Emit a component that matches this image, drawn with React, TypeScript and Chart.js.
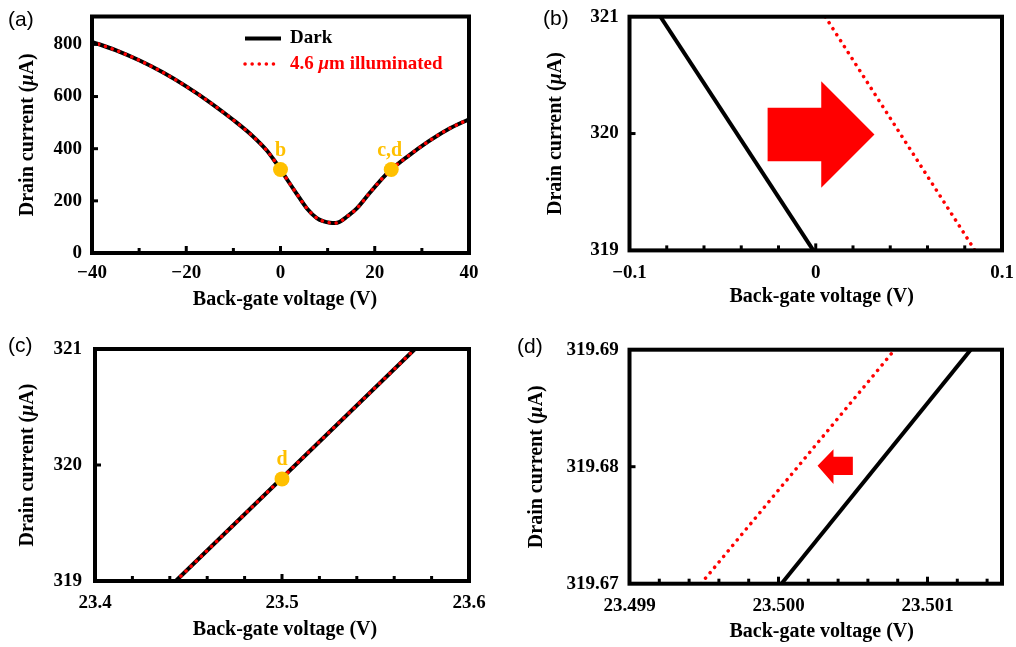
import React, { useEffect, useRef } from 'react';
import { Chart, registerables } from 'chart.js';

Chart.register(...registerables);

const SERIF = "'Liberation Serif', 'Times New Roman', Times, serif";
const SANS = "'Liberation Sans', Arial, Helvetica, sans-serif";
const BLACK = '#000000';
const RED = '#ff0000';
const GOLD = '#ffc000';

const SERIES_DARK = 'Dark';
const SERIES_ILLUM = '4.6 μm illuminated';
const X_TITLE = 'Back-gate voltage (V)';
const Y_TITLE = 'Drain current (μA)';

// ---------- panel (a): full sweep ----------
const aVoltage = [-40, -35, -30, -25, -20, -15, -10, -6, -3, -1, 0, 1.5, 3.44, 5.56, 7.7, 9.2, 10.5, 11.6, 12.6, 14, 16.2, 19, 21.1, 23.5, 26.8, 31.4, 35.5, 40];
const aDarkCurrent = [810, 778, 739, 693, 639, 578, 510, 450, 395, 347, 321, 279, 227, 172, 134, 121, 116, 115, 120, 138, 171, 232, 276, 320, 368, 428, 474, 513];
const aIllumVoltage = [-40, -35, -30, -25, -20, -15, -10, -6, -3, -1, 0, 1.5, 3.44, 5.56, 7.7, 9.2, 10.5, 11.6, 12.6, 14, 16.2, 19, 21.1, 23.5, 26.8, 31.4, 35.5, 40];
const aIllumCurrent = [810, 778, 739, 693, 639, 578, 510, 450, 395, 347, 321, 279, 227, 172, 134, 121, 116, 115, 120, 138, 171, 232, 276, 320, 368, 428, 474, 513];
const aMarkVoltage = [0, 23.5];
const aMarkCurrent = [320, 320];
const aMarkLabels = ['b', 'c,d'];
const aXTicks = [-40, -20, 0, 20, 40];
const aXMinorTicks = [-30, -20, -10, 0, 10, 20, 30];
const aYTicks = [0, 200, 400, 600, 800];
const aYMinorTicks = [200, 400, 600, 800];

// ---------- panel (b): zoom near 0 V ----------
const bDarkVoltage = [-0.0834, -0.0013];
const bDarkCurrent = [321, 319];
const bIllumVoltage = [0.0051, 0.0855];
const bIllumCurrent = [321, 319];
const bArrowVoltage = [-0.02585, 0.00295, 0.00295, 0.03153, 0.00295, 0.00295, -0.02585, -0.02585];
const bArrowCurrent = [320.22, 320.22, 320.447, 319.991, 319.536, 319.763, 319.763, 320.22];
const bXTicks = [-0.1, 0, 0.1];
const bXMinorTicks = [-0.08, -0.06, -0.04, -0.02, 0, 0.02, 0.04, 0.06, 0.08];
const bYTicks = [319, 320, 321];
const bYMinorTicks = [320];

// ---------- panel (c): zoom near 23.5 V ----------
const cDarkVoltage = [23.4432, 23.5, 23.5711];
const cDarkCurrent = [319, 319.888, 321];
const cIllumVoltage = [23.4432, 23.5, 23.5711];
const cIllumCurrent = [319, 319.888, 321];
const cMarkVoltage = [23.5];
const cMarkCurrent = [319.88];
const cMarkLabels = ['d'];
const cXTicks = [23.4, 23.5, 23.6];
const cXMinorTicks = [23.42, 23.44, 23.46, 23.48, 23.5, 23.52, 23.54, 23.56, 23.58];
const cYTicks = [319, 320, 321];
const cYMinorTicks = [320];

// ---------- panel (d): deeper zoom near 23.5 V ----------
const dDarkVoltage = [23.50002, 23.50129];
const dDarkCurrent = [319.67, 319.69];
const dIllumVoltage = [23.49948, 23.50078];
const dIllumCurrent = [319.67, 319.69];
const dArrowVoltage = [23.500262, 23.500369, 23.500369, 23.500499, 23.500499, 23.500369, 23.500369, 23.500262];
const dArrowCurrent = [319.68009, 319.68149, 319.68085, 319.68085, 319.67929, 319.67929, 319.67852, 319.68009];
const dXTicks = [23.499, 23.5, 23.501];
const dXMinorTicks = [23.4992, 23.4994, 23.4996, 23.4998, 23.5, 23.5002, 23.5004, 23.5006, 23.5008, 23.501, 23.5012, 23.5014];
const dYTicks = [319.67, 319.68, 319.69];
const dYMinorTicks = [319.68];

const pts = (xs: number[], ys: number[]) => xs.map((x, i) => ({ x, y: ys[i] }));

const fmtSigned = (v: number) => (v < 0 ? '\u2212' + String(Math.abs(v)) : String(v));

function darkSet(xs: number[], ys: number[], smooth: boolean) {
  return {
    label: SERIES_DARK,
    data: pts(xs, ys),
    borderColor: BLACK,
    backgroundColor: BLACK,
    borderWidth: 4,
    pointRadius: 0,
    fill: false,
    tension: 0,
    cubicInterpolationMode: smooth ? 'monotone' : 'default',
    order: 3,
  };
}
function illumSet(xs: number[], ys: number[], smooth: boolean) {
  return {
    label: SERIES_ILLUM,
    data: pts(xs, ys),
    borderColor: RED,
    backgroundColor: RED,
    borderWidth: 3.5,
    borderDash: [0.1, 7],
    borderCapStyle: 'round',
    pointRadius: 0,
    fill: false,
    tension: 0,
    cubicInterpolationMode: smooth ? 'monotone' : 'default',
    order: 2,
  };
}
function markSet(xs: number[], ys: number[]) {
  return {
    label: 'marks',
    data: pts(xs, ys),
    showLine: false,
    pointRadius: 7.5,
    pointBackgroundColor: GOLD,
    pointBorderColor: GOLD,
    pointBorderWidth: 0,
    order: 1,
  };
}
function arrowSet(xs: number[], ys: number[]) {
  return {
    label: 'arrow',
    data: pts(xs, ys),
    fill: 'shape',
    backgroundColor: RED,
    borderColor: 'rgba(0,0,0,0)',
    borderWidth: 0,
    pointRadius: 0,
    tension: 0,
    order: 4,
  };
}

function drawRich(ctx: CanvasRenderingContext2D, text: string, x: number, y: number, size: number, color: string, align: 'left' | 'center') {
  const parts = text.split(/(μ)/).filter((s) => s.length > 0);
  const fontFor = (it: boolean) => `${it ? 'italic ' : ''}bold ${size}px ${SERIF}`;
  let total = 0;
  const widths = parts.map((p) => {
    ctx.font = fontFor(p === 'μ');
    const w = ctx.measureText(p).width;
    total += w;
    return w;
  });
  let cx = align === 'center' ? x - total / 2 : x;
  ctx.fillStyle = color;
  ctx.textBaseline = 'middle';
  ctx.textAlign = 'left';
  parts.forEach((p, i) => {
    ctx.font = fontFor(p === 'μ');
    ctx.fillText(p, cx, y);
    cx += widths[i];
  });
}

interface PanelSpec {
  id: string;
  letter: string;
  left: number;
  top: number;
  w: number;
  h: number;
  area: { l: number; r: number; t: number; b: number };
  xMin: number;
  xMax: number;
  yMin: number;
  yMax: number;
  xTicks: number[];
  xMinor: number[];
  yTicks: number[];
  yMinor: number[];
  xFmt: (v: number) => string;
  yFmt: (v: number) => string;
  xTickPad: number;
  yTickPad: number;
  xTitle: { x: number; y: number };
  yTitleX: number;
  letterPos: { x: number; y: number };
  datasets: any[];
  markIndex?: number;
  markLabels?: string[];
  markDx?: number[];
  legend?: { x0: number; x1: number[]; textX: number; ys: number[] };
}

const PANELS: PanelSpec[] = [
  {
    id: 'a', letter: '(a)', left: 0, top: 0, w: 508, h: 323,
    area: { l: 92, r: 469, t: 16.5, b: 253 },
    xMin: -40, xMax: 40, yMin: 0, yMax: 907,
    xTicks: aXTicks, xMinor: aXMinorTicks, yTicks: aYTicks, yMinor: aYMinorTicks,
    xFmt: (v) => fmtSigned(v), yFmt: (v) => String(v),
    xTickPad: 8.3, yTickPad: 10,
    xTitle: { x: 285, y: 299.7 }, yTitleX: 28.3, letterPos: { x: 8, y: 20.5 },
    datasets: [
      darkSet(aVoltage, aDarkCurrent, true),
      illumSet(aIllumVoltage, aIllumCurrent, true),
      markSet(aMarkVoltage, aMarkCurrent),
    ],
    markIndex: 2, markLabels: aMarkLabels, markDx: [0, -1.5],
    legend: { x0: 245, x1: [281, 276], textX: 290, ys: [38.5, 64] },
  },
  {
    id: 'b', letter: '(b)', left: 508, top: 0, w: 508, h: 323,
    area: { l: 121.5, r: 494, t: 16.7, b: 250.4 },
    xMin: -0.1, xMax: 0.1, yMin: 319, yMax: 321,
    xTicks: bXTicks, xMinor: bXMinorTicks, yTicks: bYTicks, yMinor: bYMinorTicks,
    xFmt: (v) => fmtSigned(v), yFmt: (v) => String(v),
    xTickPad: 11.4, yTickPad: 10.7,
    xTitle: { x: 313.7, y: 297.3 }, yTitleX: 47.7, letterPos: { x: 35, y: 19 },
    datasets: [
      darkSet(bDarkVoltage, bDarkCurrent, false),
      illumSet(bIllumVoltage, bIllumCurrent, false),
      arrowSet(bArrowVoltage, bArrowCurrent),
    ],
  },
  {
    id: 'c', letter: '(c)', left: 0, top: 323, w: 508, h: 324,
    area: { l: 95, r: 469, t: 26, b: 258 },
    xMin: 23.4, xMax: 23.6, yMin: 319, yMax: 321,
    xTicks: cXTicks, xMinor: cXMinorTicks, yTicks: cYTicks, yMinor: cYMinorTicks,
    xFmt: (v) => v.toFixed(1), yFmt: (v) => String(v),
    xTickPad: 10.9, yTickPad: 13,
    xTitle: { x: 285, y: 307 }, yTitleX: 28.3, letterPos: { x: 8, y: 23.5 },
    datasets: [
      darkSet(cDarkVoltage, cDarkCurrent, false),
      illumSet(cIllumVoltage, cIllumCurrent, false),
      markSet(cMarkVoltage, cMarkCurrent),
    ],
    markIndex: 2, markLabels: cMarkLabels, markDx: [0],
  },
  {
    id: 'd', letter: '(d)', left: 508, top: 323, w: 508, h: 324,
    area: { l: 121.5, r: 494, t: 26.7, b: 260.7 },
    xMin: 23.499, xMax: 23.5015, yMin: 319.67, yMax: 319.69,
    xTicks: dXTicks, xMinor: dXMinorTicks, yTicks: dYTicks, yMinor: dYMinorTicks,
    xFmt: (v) => v.toFixed(3), yFmt: (v) => v.toFixed(2),
    xTickPad: 10.6, yTickPad: 10.7,
    xTitle: { x: 313.7, y: 309.3 }, yTitleX: 29.3, letterPos: { x: 9, y: 24 },
    datasets: [
      darkSet(dDarkVoltage, dDarkCurrent, false),
      illumSet(dIllumVoltage, dIllumCurrent, false),
      arrowSet(dArrowVoltage, dArrowCurrent),
    ],
  },
];

function makeDecor(spec: PanelSpec) {
  return {
    id: 'panelDecor' + spec.id,
    afterDraw(chart: any) {
      const { ctx, chartArea: a, scales } = chart;
      const xs = scales.x;
      const ys = scales.y;
      ctx.save();
      ctx.strokeStyle = BLACK;
      ctx.lineCap = 'butt';
      ctx.setLineDash([]);
      ctx.lineWidth = 3;
      spec.xMinor.forEach((v) => {
        const px = xs.getPixelForValue(v);
        const len = spec.xTicks.some((t) => Math.abs(t - v) < 1e-9) ? 7 : 5;
        ctx.beginPath();
        ctx.moveTo(px, a.bottom);
        ctx.lineTo(px, a.bottom - len);
        ctx.stroke();
      });
      spec.yMinor.forEach((v) => {
        const py = ys.getPixelForValue(v);
        ctx.beginPath();
        ctx.moveTo(a.left, py);
        ctx.lineTo(a.left + 6, py);
        ctx.stroke();
      });
      ctx.lineWidth = 4;
      ctx.strokeRect(a.left, a.top, a.right - a.left, a.bottom - a.top);

      if (spec.markLabels && spec.markIndex !== undefined) {
        const meta = chart.getDatasetMeta(spec.markIndex);
        meta.data.forEach((pt: any, i: number) => {
          drawRich(ctx, spec.markLabels![i], pt.x + (spec.markDx ? spec.markDx[i] : 0), pt.y - 19, 20, GOLD, 'center');
        });
      }

      if (spec.legend) {
        const lg = spec.legend;
        [0, 1].forEach((di, k) => {
          const ds = chart.data.datasets[di];
          const y = lg.ys[k];
          ctx.save();
          ctx.strokeStyle = ds.borderColor;
          ctx.lineWidth = ds.borderWidth;
          ctx.setLineDash(ds.borderDash || []);
          ctx.lineCap = ds.borderCapStyle || 'butt';
          ctx.beginPath();
          ctx.moveTo(lg.x0, y);
          ctx.lineTo(lg.x1[k], y);
          ctx.stroke();
          ctx.restore();
          drawRich(ctx, ds.label, lg.textX, y, 19, ds.borderColor, 'left');
        });
      }

      drawRich(ctx, X_TITLE, spec.xTitle.x, spec.xTitle.y, 20, BLACK, 'center');
      ctx.save();
      ctx.translate(spec.yTitleX, (a.top + a.bottom) / 2);
      ctx.rotate(-Math.PI / 2);
      drawRich(ctx, Y_TITLE, 0, 0, 20, BLACK, 'center');
      ctx.restore();

      ctx.font = `21px ${SANS}`;
      ctx.fillStyle = BLACK;
      ctx.textAlign = 'left';
      ctx.textBaseline = 'middle';
      ctx.fillText(spec.letter, spec.letterPos.x, spec.letterPos.y);
      ctx.restore();
    },
  };
}

function buildConfig(spec: PanelSpec): any {
  const tickFont = { family: SERIF, weight: 'bold', size: 19 };
  return {
    type: 'line',
    data: { datasets: spec.datasets },
    options: {
      animation: false,
      responsive: false,
      maintainAspectRatio: false,
      devicePixelRatio: 1,
      events: [],
      layout: { padding: { left: 0, top: spec.area.t, right: spec.w - spec.area.r, bottom: 0 } },
      plugins: { legend: { display: false }, tooltip: { enabled: false } },
      scales: {
        x: {
          type: 'linear',
          min: spec.xMin,
          max: spec.xMax,
          grid: { display: false, drawTicks: false },
          border: { display: false },
          title: { display: false },
          ticks: {
            font: tickFont,
            color: BLACK,
            padding: spec.xTickPad,
            maxRotation: 0,
            minRotation: 0,
            autoSkip: false,
            callback: (value: any) => spec.xFmt(Number(value)),
          },
          afterBuildTicks: (s: any) => {
            s.ticks = spec.xTicks.map((v) => ({ value: v }));
          },
          afterFit: (s: any) => {
            s.height = spec.h - spec.area.b;
            s.paddingLeft = 0;
            s.paddingRight = 0;
          },
        },
        y: {
          type: 'linear',
          min: spec.yMin,
          max: spec.yMax,
          grid: { display: false, drawTicks: false },
          border: { display: false },
          title: { display: false },
          ticks: {
            font: tickFont,
            color: BLACK,
            padding: spec.yTickPad,
            autoSkip: false,
            callback: (value: any) => spec.yFmt(Number(value)),
          },
          afterBuildTicks: (s: any) => {
            s.ticks = spec.yTicks.map((v) => ({ value: v }));
          },
          afterFit: (s: any) => {
            s.width = spec.area.l;
            s.paddingTop = 0;
            s.paddingBottom = 0;
          },
        },
      },
    },
    plugins: [makeDecor(spec)],
  };
}

function Panel({ spec }: { spec: PanelSpec }) {
  const ref = useRef<HTMLCanvasElement | null>(null);
  useEffect(() => {
    if (!ref.current) return;
    const chart = new Chart(ref.current, buildConfig(spec));
    return () => chart.destroy();
  }, [spec]);
  return (
    <canvas
      ref={ref}
      width={spec.w}
      height={spec.h}
      style={{ position: 'absolute', left: spec.left, top: spec.top, width: spec.w, height: spec.h }}
    />
  );
}

export default function App() {
  return (
    <div style={{ position: 'fixed', left: 0, top: 0, width: 1016, height: 647, background: '#ffffff', overflow: 'hidden' }}>
      {PANELS.map((p) => (
        <Panel key={p.id} spec={p} />
      ))}
    </div>
  );
}
